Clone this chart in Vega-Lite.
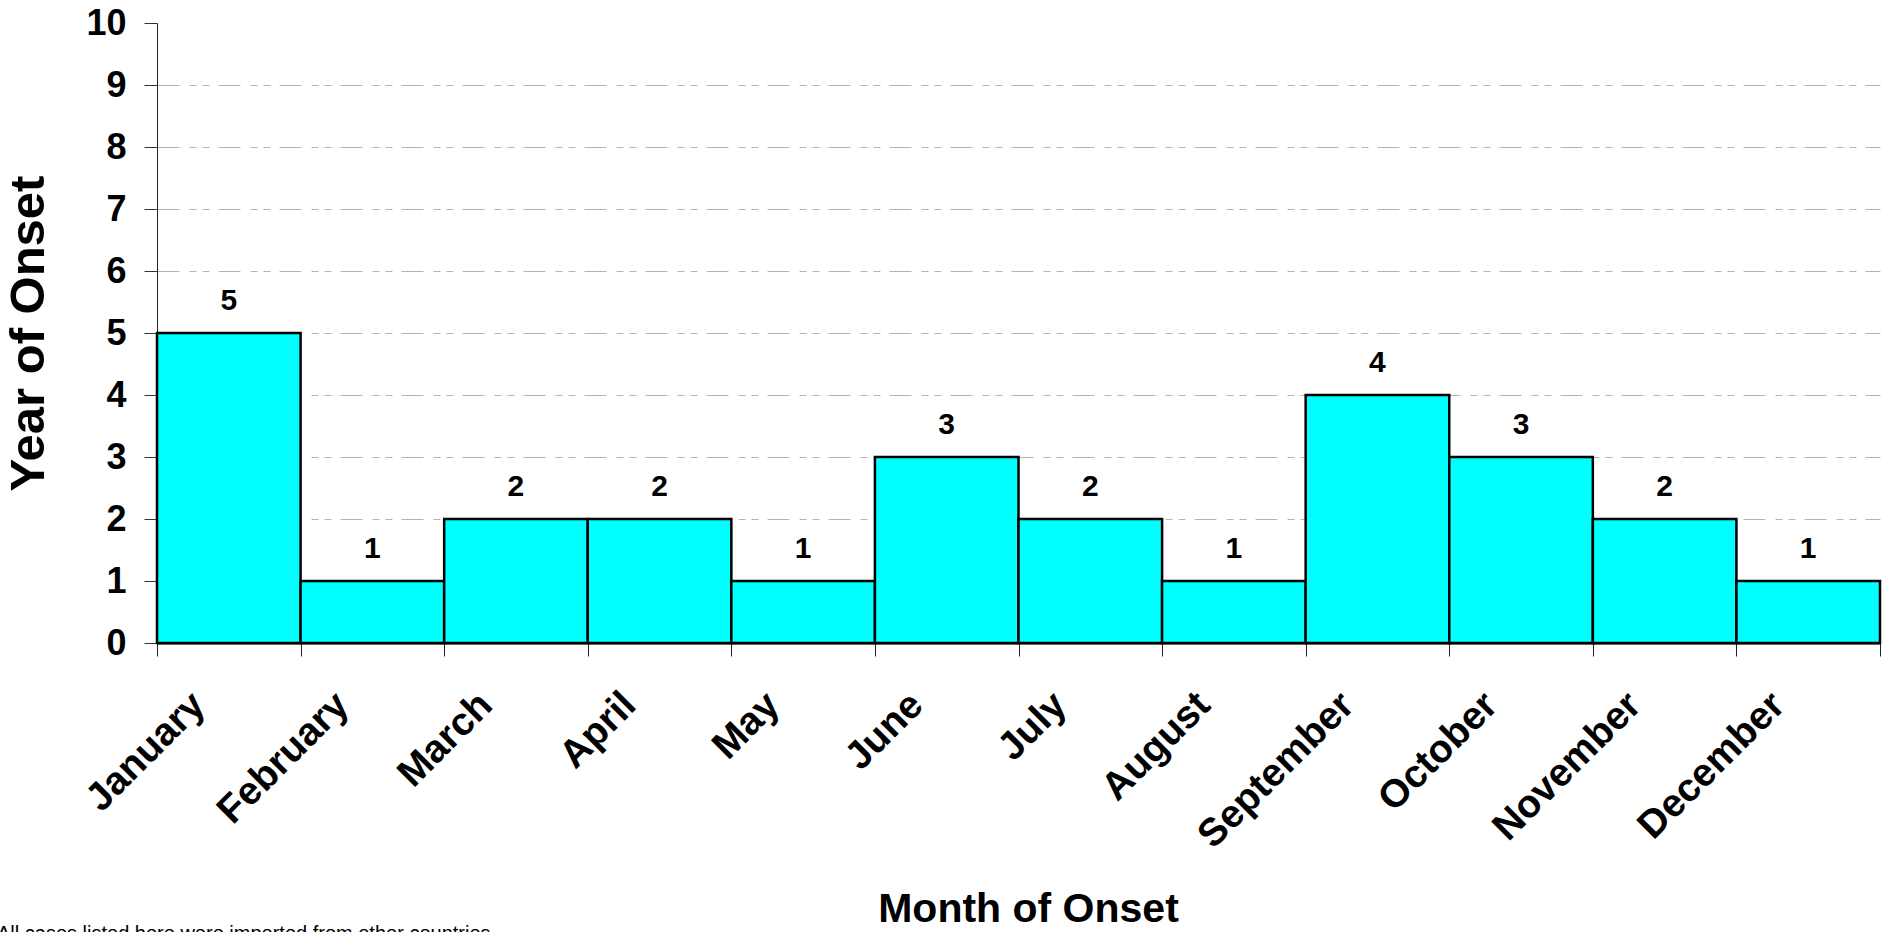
{
  "$schema": "https://vega.github.io/schema/vega-lite/v6.json",
  "width": 1723,
  "height": 620,
  "autosize": {"type": "none"},
  "padding": {"left": 157, "top": 23, "right": 11, "bottom": 289},
  "background": "white",
  "config": {"view": {"stroke": null}, "font": "Liberation Sans"},
  "title": {
    "text": "All cases listed here were imported from other countries",
    "orient": "bottom",
    "anchor": "start",
    "frame": "group",
    "fontSize": 20,
    "fontWeight": "normal",
    "color": "black",
    "baseline": "top",
    "dx": -160,
    "offset": -5
  },
  "data": {
    "values": [
      {"month": "January", "count": 5},
      {"month": "February", "count": 1},
      {"month": "March", "count": 2},
      {"month": "April", "count": 2},
      {"month": "May", "count": 1},
      {"month": "June", "count": 3},
      {"month": "July", "count": 2},
      {"month": "August", "count": 1},
      {"month": "September", "count": 4},
      {"month": "October", "count": 3},
      {"month": "November", "count": 2},
      {"month": "December", "count": 1}
    ]
  },
  "encoding": {
    "x": {
      "field": "month",
      "type": "ordinal",
      "sort": ["January", "February", "March", "April", "May", "June", "July", "August", "September", "October", "November", "December"],
      "scale": {"paddingInner": 0, "paddingOuter": 0},
      "axis": {
        "title": "Month of Onset",
        "titleFontSize": 41,
        "titleFontWeight": "bold",
        "titleColor": "black",
        "titlePadding": 46,
        "titleX": 871,
        "labelAngle": -45,
        "labelFontSize": 39,
        "labelFontWeight": "bold",
        "labelColor": "black",
        "labelPadding": 29,
        "labelOffset": -44,
        "labelLimit": 0,
        "labelOverlap": false,
        "tickBand": "extent",
        "tickSize": 13,
        "tickColor": "#222",
        "domainColor": "black",
        "domainWidth": 2,
        "grid": false
      }
    },
    "y": {
      "field": "count",
      "type": "quantitative",
      "scale": {"domain": [0, 10], "nice": false},
      "axis": {
        "title": "Year of Onset",
        "titleFontSize": 49,
        "titleFontWeight": "bold",
        "titleColor": "black",
        "titlePadding": 32,
        "values": [0, 1, 2, 3, 4, 5, 6, 7, 8, 9, 10],
        "labelFontSize": 36,
        "labelFontWeight": "bold",
        "labelColor": "black",
        "labelPadding": 18,
        "tickSize": 13,
        "tickColor": "#333",
        "domainColor": "#222",
        "domainWidth": 1,
        "grid": true,
        "gridColor": "#b4b4b4",
        "gridWidth": 1,
        "gridDash": [22, 10, 7, 6, 7, 9],
        "gridOpacity": {"condition": {"test": "datum.value === 0 || datum.value === 10", "value": 0}, "value": 1}
      }
    }
  },
  "layer": [
    {"mark": {"type": "bar", "fill": "#00FFFF", "stroke": "black", "strokeWidth": 2.5}},
    {
      "mark": {"type": "text", "baseline": "alphabetic", "dy": -23, "fontSize": 30, "fontWeight": "bold", "color": "black"},
      "encoding": {"text": {"field": "count", "type": "quantitative"}}
    }
  ]
}
